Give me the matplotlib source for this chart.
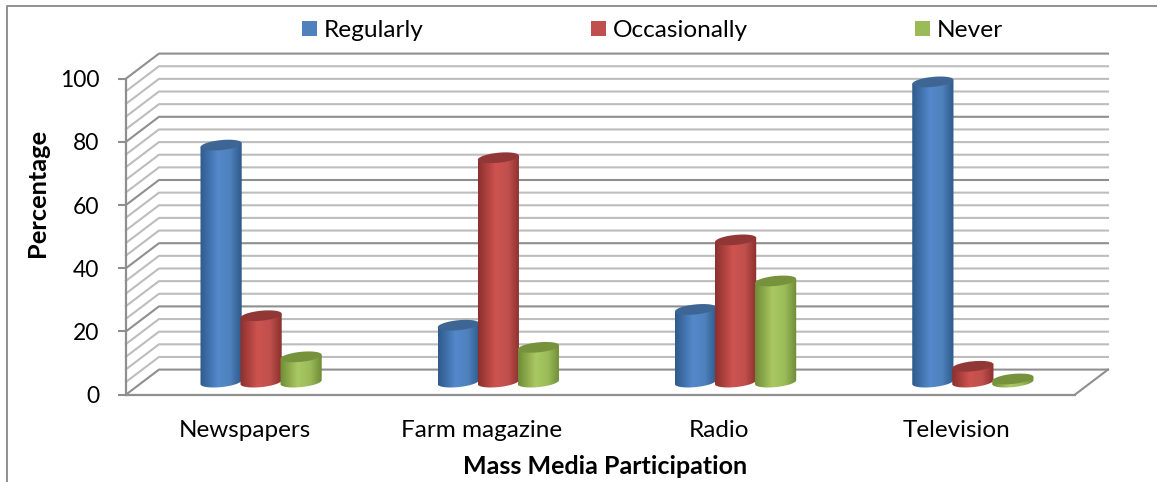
"""Grouped pseudo-3D cylinder chart of mass media participation."""

import matplotlib.pyplot as plt
import numpy as np
from matplotlib.colors import LinearSegmentedColormap
from matplotlib.patches import Patch, Polygon

CATEGORIES = ["Newspapers", "Farm magazine", "Radio", "Television"]
SERIES_NAMES = ["Regularly", "Occasionally", "Never"]
REGULARLY = [75, 18, 23, 95]
OCCASIONALLY = [21, 71, 45, 5]
NEVER = [8, 11, 32, 1]
Y_TICKS = [0, 20, 40, 60, 80, 100]

# Legend colour, dark edge, light centre, cap colour for each series.
COLOURS = [
    ("#4f81bd", "#2f5a8c", "#5388cb", "#3d6695"),
    ("#c0504d", "#8c302e", "#cd5350", "#913836"),
    ("#9bbb59", "#6f8c36", "#a9c963", "#76923c"),
]

WIDTH, HEIGHT = 1157, 482
PX_PER_CATEGORY = 237.25
PX_PER_PERCENT = 3.16
ZERO_X, ZERO_Y = 244.6, 394.6
DEPTH_X = 33 / PX_PER_CATEGORY
DEPTH_Y = 25 / PX_PER_PERCENT
LEFT = -0.5
RIGHT = 3.5
BAR_WIDTH = 40 / PX_PER_CATEGORY
CAP_RISE = 2.0 / PX_PER_PERCENT
CAP_HALF = 5.0 / PX_PER_PERCENT


def draw_walls(axes) -> None:
    """Draws the back wall, side wall and floor lines."""
    for value in range(0, 101, 4):
        major = value % 20 == 0
        colour = "#8f8f8f" if major else "#bdbdbd"
        axes.plot(
            [LEFT, LEFT + DEPTH_X, RIGHT + DEPTH_X],
            [value, value + DEPTH_Y, value + DEPTH_Y],
            color=colour,
            lw=1.5,
            zorder=1,
            solid_joinstyle="round",
        )
    axes.plot(
        [RIGHT, RIGHT + DEPTH_X],
        [0, DEPTH_Y],
        color="#8f8f8f",
        lw=1.5,
        zorder=1,
    )


def draw_cylinder(axes, centre, value, colours, order) -> None:
    """Draws one shaded cylinder standing on the middle of the floor."""
    base = DEPTH_Y / 2
    half = BAR_WIDTH * 0.515
    top = base + value
    angles = np.linspace(0, 2 * np.pi, 80)
    front = np.linspace(np.pi, 2 * np.pi, 40)

    # Body outline: the lower half of the base ellipse, closed along the cap.
    body_x = np.concatenate((
        centre + half * np.cos(front),
        centre + half * np.cos(front[::-1]),
    ))
    body_y = np.concatenate((
        base + CAP_RISE * np.cos(front) + CAP_HALF * np.sin(front),
        top + CAP_RISE * np.cos(front[::-1]),
    ))
    body = Polygon(
        np.column_stack((body_x, body_y)),
        closed=True,
        transform=axes.transData,
        facecolor="none",
        edgecolor="none",
    )
    axes.add_patch(body)

    cmap = LinearSegmentedColormap.from_list(
        "shade",
        [
            (0.0, colours[1]),
            (0.42, colours[2]),
            (0.72, colours[0]),
            (1.0, colours[1]),
        ],
    )
    shade = axes.imshow(
        np.linspace(0, 1, 64).reshape(1, -1),
        cmap=cmap,
        extent=(centre - half, centre + half, base - 3, top + 3),
        aspect="auto",
        interpolation="bilinear",
        zorder=order,
    )
    shade.set_clip_path(body)

    cap = np.column_stack((
        centre + half * np.cos(angles),
        top + CAP_RISE * np.cos(angles) + CAP_HALF * np.sin(angles),
    ))
    axes.add_patch(Polygon(
        cap,
        closed=True,
        facecolor=colours[3],
        edgecolor="none",
        zorder=order + 0.1,
    ))


def main() -> None:
    """The main function."""
    plt.rcParams["font.family"] = ["Lato", "DejaVu Sans"]

    fig = plt.figure(figsize=(WIDTH / 100, HEIGHT / 100), dpi=100)
    axes = fig.add_axes([0, 0, 1, 1])

    draw_walls(axes)

    series = [REGULARLY, OCCASIONALLY, NEVER]
    order = 3
    for i in range(len(CATEGORIES)):
        for j, values in enumerate(series):
            centre = i + DEPTH_X / 2 + (j - 1) * BAR_WIDTH
            draw_cylinder(axes, centre, values[i], COLOURS[j], order)
            order += 1

    axes.set_xlim(-ZERO_X / PX_PER_CATEGORY, (WIDTH - ZERO_X) / PX_PER_CATEGORY)
    axes.set_ylim(
        -(HEIGHT - ZERO_Y) / PX_PER_PERCENT,
        ZERO_Y / PX_PER_PERCENT,
    )

    # The front edges of the box are the real axes.
    for side in ("top", "right"):
        axes.spines[side].set_visible(False)
    axes.spines["left"].set_position(("data", LEFT))
    axes.spines["left"].set_bounds(0, 100)
    axes.spines["bottom"].set_position(("data", 0))
    axes.spines["bottom"].set_bounds(LEFT, RIGHT)
    for side in ("left", "bottom"):
        axes.spines[side].set_color("#8f8f8f")
        axes.spines[side].set_linewidth(1.6)
        axes.spines[side].set_zorder(2)

    axes.set_yticks(Y_TICKS)
    axes.set_xticks(range(len(CATEGORIES)), CATEGORIES)
    axes.tick_params(
        axis="y", length=6, width=1.5, color="#8f8f8f",
        labelsize=16.5, pad=13,
    )
    axes.tick_params(axis="x", length=0, labelsize=17.5, pad=18.5)

    axes.text(
        (605 - ZERO_X) / PX_PER_CATEGORY,
        (ZERO_Y - 466) / PX_PER_PERCENT,
        "Mass Media Participation",
        fontsize=18,
        fontweight="bold",
        ha="center",
        va="center",
    )
    axes.text(
        (38 - ZERO_X) / PX_PER_CATEGORY,
        (ZERO_Y - 193) / PX_PER_PERCENT,
        "Percentage",
        fontsize=18.3,
        fontweight="bold",
        rotation=90,
        ha="center",
        va="center",
    )

    handles = [
        Patch(facecolor=colours[0], label=name)
        for colours, name in zip(COLOURS, SERIES_NAMES)
    ]
    axes.legend(
        handles=handles,
        ncols=3,
        frameon=False,
        fontsize=17.6,
        loc="center",
        bbox_to_anchor=(652.5 / WIDTH, 1 - 30.5 / HEIGHT),
        bbox_transform=fig.transFigure,
        handlelength=0.61,
        handleheight=0.61,
        handletextpad=0.29,
        columnspacing=6.84,
        borderpad=0,
        borderaxespad=0,
    )

    # Outer chart border, open on the right and at the bottom.
    fig.add_artist(plt.Line2D(
        [7 / WIDTH, 7 / WIDTH, 1],
        [0, 1 - 5.5 / HEIGHT, 1 - 5.5 / HEIGHT],
        color="#8f8f8f",
        lw=1.4,
    ))

    fig.savefig("out.png", dpi=100)


if __name__ == "__main__":
    main()
